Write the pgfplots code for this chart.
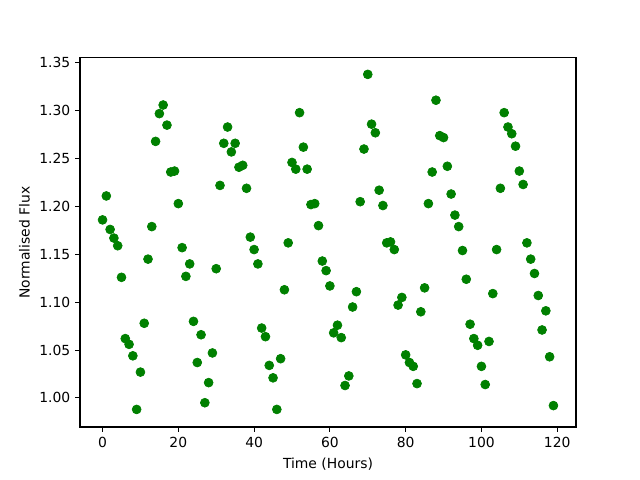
\documentclass[border=0pt]{standalone}
\usepackage{fontspec}
\setmainfont{DejaVu Sans}
\usepackage{pgfplots}
\pgfplotsset{compat=1.18}
\definecolor{mplgreen}{rgb}{0,0.5,0}
\begin{document}
\begin{tikzpicture}
\path[use as bounding box] (-57.6pt,-38.16pt) rectangle (403.2pt,307.4pt);
\begin{axis}[
  at={(0,0)}, anchor=south west,
  scale only axis, width=357.1pt, height=265.7pt,
  xmin=-5.95, xmax=124.95, ymin=0.9697, ymax=1.3552,
  xtick={0,20,40,60,80,100,120},
  ytick={1.00,1.05,1.10,1.15,1.20,1.25,1.30,1.35},
  yticklabel style={/pgf/number format/.cd, fixed, fixed zerofill, precision=2},
  /pgf/number format/assume math mode=true,
  tick align=outside, major tick length=3.5pt,
  every tick/.style={line width=0.8pt, black},
  axis line style={line width=0.8pt},
  tick label style={font=\fontsize{10}{12}\selectfont},
  label style={font=\fontsize{10}{12}\selectfont},
  xtick pos=bottom, ytick pos=left,
  xlabel={Time (Hours)}, ylabel={Normalised Flux},
  xlabel style={yshift=-1pt},
  ylabel style={yshift=0pt},
]
\addplot[only marks, mark=*, mark size=3.2pt, color=mplgreen, mark options={line width=0.5pt}] table {
x y
0 1.186
1 1.211
2 1.176
3 1.167
4 1.159
5 1.126
6 1.062
7 1.056
8 1.044
9 0.988
10 1.027
11 1.078
12 1.145
13 1.179
14 1.268
15 1.297
16 1.306
17 1.285
18 1.236
19 1.237
20 1.203
21 1.157
22 1.127
23 1.140
24 1.080
25 1.037
26 1.066
27 0.995
28 1.016
29 1.047
30 1.135
31 1.222
32 1.266
33 1.283
34 1.257
35 1.266
36 1.241
37 1.243
38 1.219
39 1.168
40 1.155
41 1.140
42 1.073
43 1.064
44 1.034
45 1.021
46 0.988
47 1.041
48 1.113
49 1.162
50 1.246
51 1.239
52 1.298
53 1.262
54 1.239
55 1.202
56 1.203
57 1.180
58 1.143
59 1.133
60 1.117
61 1.068
62 1.076
63 1.063
64 1.013
65 1.023
66 1.095
67 1.111
68 1.205
69 1.260
70 1.338
71 1.286
72 1.277
73 1.217
74 1.201
75 1.162
76 1.163
77 1.155
78 1.097
79 1.105
80 1.045
81 1.037
82 1.033
83 1.015
84 1.090
85 1.115
86 1.203
87 1.236
88 1.311
89 1.274
90 1.272
91 1.242
92 1.213
93 1.191
94 1.179
95 1.154
96 1.124
97 1.077
98 1.062
99 1.055
100 1.033
101 1.014
102 1.059
103 1.109
104 1.155
105 1.219
106 1.298
107 1.283
108 1.276
109 1.263
110 1.237
111 1.223
112 1.162
113 1.145
114 1.130
115 1.107
116 1.071
117 1.091
118 1.043
119 0.992
};
\end{axis}
\end{tikzpicture}
\end{document}
